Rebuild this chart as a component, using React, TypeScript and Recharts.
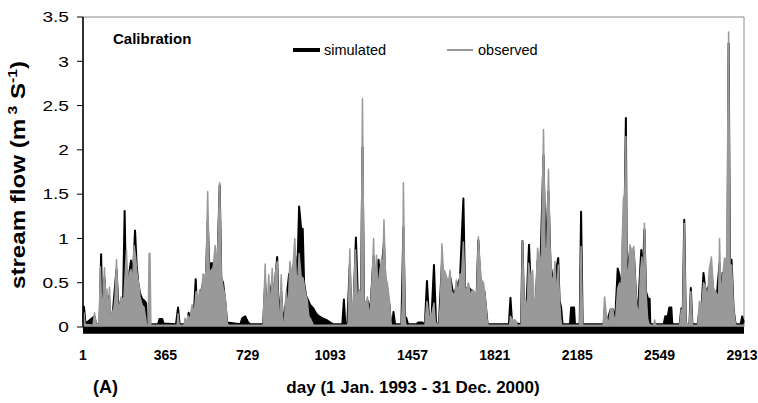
import React from "react";
import {
  ComposedChart,
  Area,
  XAxis,
  YAxis,
  ReferenceLine,
  ReferenceArea,
} from "recharts";

// day index (1 = 1 Jan 1993) and stream flow (m3/s)
const xTicks = [1, 365, 729, 1093, 1457, 1821, 2185, 2549, 2913];
const yTicks = [0, 0.5, 1, 1.5, 2, 2.5, 3, 3.5];

const observed1993_1994: [number, number][] = [
  [1, 0.05], [5, 0.16], [10, 0.03], [45, 0.02], [52, 0.16], [59, 0.03], [72, 0.03], [78, 0.68], [85, 0.1],
  [96, 0.67], [103, 0.15], [107, 0.43], [112, 0.1], [118, 0.45], [123, 0.05], [129, 0.15], [138, 0.22],
  [143, 0.35], [149, 0.76], [156, 0.25], [160, 0.2], [169, 0.34], [178, 0.3], [182, 0.34], [193, 0.87],
  [200, 0.4], [205, 0.6], [213, 0.65], [220, 0.5], [227, 0.92], [233, 0.8], [240, 0.6], [249, 0.45],
  [253, 0.34], [262, 0.25], [271, 0.22], [278, 0.1], [282, 0.02], [289, 0.02], [293, 0.83], [297, 0.83],
  [301, 0.02], [417, 0.02], [421, 0.15], [426, 0.02], [448, 0.02], [452, 0.1], [459, 0.02], [465, 0.13],
  [474, 0.08], [483, 0.25], [492, 0.15], [501, 0.4], [509, 0.25], [516, 0.42], [523, 0.35], [532, 0.6],
  [541, 0.55], [545, 0.65], [552, 1.53], [559, 0.6], [567, 0.64], [576, 0.67], [585, 0.92], [594, 0.67],
  [605, 1.63], [612, 0.6], [620, 0.45], [629, 0.35], [634, 0.2], [638, 0.05], [643, 0.02],
];

const observed1995_1996: [number, number][] = [
  [797, 0.02], [806, 0.71], [813, 0.1], [822, 0.59], [828, 0.15], [837, 0.66], [844, 0.3], [851, 0.6],
  [859, 0.74], [866, 0.1], [871, 0.1], [877, 0.59], [884, 0.03], [890, 0.03], [899, 0.4], [908, 0.2],
  [915, 0.74], [921, 0.6], [930, 0.72], [937, 1.0], [943, 0.6], [950, 0.5], [956, 0.83], [965, 0.57],
  [974, 0.55], [983, 0.4], [992, 0.3], [999, 0.12], [1005, 0.1], [1014, 0.05], [1019, 0.02], [1169, 0.02],
  [1173, 0.05], [1180, 0.88], [1187, 0.2], [1196, 0.25], [1205, 0.87], [1213, 0.3], [1222, 0.42],
  [1229, 0.2], [1236, 2.58], [1243, 0.3], [1249, 0.25], [1258, 0.34], [1265, 0.15], [1271, 0.2],
  [1280, 0.6], [1285, 1.0], [1291, 0.4], [1298, 0.81], [1304, 0.4], [1311, 0.6], [1320, 0.76], [1324, 0.5],
  [1331, 1.21], [1338, 0.55], [1346, 0.5], [1355, 0.3], [1360, 0.1], [1364, 0.02], [1408, 0.02],
  [1413, 0.3], [1417, 1.63], [1424, 0.1], [1428, 0.02],
];

const observed1997_1998: [number, number][] = [
  [1512, 0.02], [1521, 0.29], [1530, 0.12], [1539, 0.1], [1552, 0.27], [1558, 0.05], [1574, 0.02],
  [1581, 0.3], [1587, 0.94], [1594, 0.6], [1598, 0.64], [1607, 0.57], [1616, 0.5], [1623, 0.64],
  [1629, 0.4], [1636, 0.38], [1643, 0.35], [1651, 0.53], [1658, 0.35], [1667, 0.6], [1673, 0.55],
  [1682, 0.96], [1689, 0.45], [1696, 0.4], [1704, 0.5], [1713, 0.35], [1722, 0.42], [1731, 0.4],
  [1740, 0.3], [1748, 1.02], [1755, 0.7], [1762, 0.53], [1771, 0.5], [1780, 0.3], [1786, 0.1], [1791, 0.02],
  [1886, 0.02], [1890, 0.12], [1899, 0.08], [1912, 0.08], [1921, 0.02], [1937, 0.02], [1943, 0.97],
  [1950, 0.3], [1957, 0.3], [1963, 0.1], [1970, 0.72], [1979, 0.55], [1988, 0.64], [1994, 0.3],
  [2001, 0.3], [2010, 0.89], [2019, 0.7], [2027, 0.83], [2036, 2.23], [2043, 0.9], [2050, 0.8],
  [2058, 1.78], [2065, 0.9], [2072, 0.57], [2079, 0.5], [2087, 0.74], [2094, 0.3], [2101, 0.7],
  [2107, 0.3], [2112, 0.1], [2116, 0.02], [2196, 0.02], [2202, 0.91], [2209, 0.02],
];

const observed1999_2000: [number, number][] = [
  [2300, 0.02], [2306, 0.34], [2313, 0.15], [2320, 0.05], [2324, 0.05], [2333, 0.21], [2342, 0.2],
  [2348, 0.1], [2355, 0.1], [2364, 0.44], [2373, 0.5], [2380, 0.45], [2382, 0.8], [2389, 1.45],
  [2395, 1.5], [2400, 2.15], [2404, 0.66], [2411, 0.6], [2418, 0.93], [2426, 0.85], [2435, 0.91],
  [2442, 0.5], [2448, 0.25], [2457, 0.1], [2464, 0.6], [2471, 0.79], [2478, 0.4], [2482, 1.17],
  [2489, 0.4], [2496, 0.1], [2500, 0.05], [2507, 0.02], [2523, 0.02], [2527, 0.08], [2532, 0.02],
  [2638, 0.02], [2645, 0.2], [2651, 0.1], [2658, 1.17], [2665, 0.05], [2681, 0.02], [2687, 0.4],
  [2694, 0.02], [2718, 0.02], [2725, 0.29], [2734, 0.2], [2743, 0.5], [2752, 0.46], [2760, 0.3],
  [2769, 0.66], [2778, 0.79], [2787, 0.44], [2796, 0.4], [2805, 0.36], [2809, 0.2], [2814, 1.0],
  [2820, 0.3], [2827, 0.55], [2836, 0.78], [2845, 0.75], [2854, 3.33], [2860, 0.7], [2867, 0.7],
  [2876, 0.2], [2885, 0.02], [2922, 0.02],
];

const simulated1993_1994: [number, number][] = [
  [1, 0.05], [5, 0.23], [12, 0.04], [52, 0.12], [59, 0.03], [74, 0.03], [81, 0.82], [87, 0.05], [96, 0.55],
  [103, 0.1], [116, 0.35], [123, 0.04], [134, 0.2], [149, 0.65], [158, 0.2], [169, 0.3], [178, 0.3],
  [185, 1.31], [191, 0.4], [200, 0.5], [213, 0.75], [222, 0.6], [231, 1.09], [238, 0.7], [245, 0.5],
  [253, 0.38], [262, 0.32], [271, 0.3], [280, 0.27], [284, 0.03], [333, 0.03], [339, 0.09], [351, 0.09],
  [357, 0.04], [412, 0.03], [421, 0.22], [428, 0.03], [461, 0.03], [468, 0.16], [474, 0.05], [483, 0.2],
  [492, 0.2], [499, 0.54], [505, 0.2], [518, 0.35], [532, 0.5], [545, 0.6], [552, 1.2], [559, 0.7],
  [567, 0.72], [576, 0.72], [585, 0.72], [594, 0.6], [605, 1.6], [612, 0.55], [620, 0.5], [629, 0.3],
  [638, 0.05], [696, 0.03], [705, 0.1], [718, 0.12], [731, 0.05], [740, 0.03],
];

const simulated1995_1996: [number, number][] = [
  [797, 0.03], [806, 0.5], [815, 0.1], [828, 0.4], [837, 0.5], [846, 0.4], [859, 0.79], [866, 0.1],
  [877, 0.4], [886, 0.03], [899, 0.3], [912, 0.6], [925, 0.6], [939, 0.8], [947, 0.5], [956, 1.36],
  [965, 1.11], [972, 1.11], [978, 0.5], [987, 0.35], [996, 0.3], [1005, 0.25], [1019, 0.21], [1032, 0.15],
  [1045, 0.12], [1058, 0.1], [1076, 0.08], [1094, 0.05], [1107, 0.03], [1147, 0.03], [1154, 0.31],
  [1160, 0.03], [1169, 0.03], [1180, 0.7], [1187, 0.1], [1196, 0.2], [1207, 1.01], [1216, 0.3],
  [1222, 0.35], [1229, 0.2], [1236, 2.03], [1243, 0.25], [1258, 0.3], [1271, 0.2], [1285, 0.8],
  [1294, 0.5], [1307, 0.76], [1315, 0.5], [1322, 0.7], [1331, 0.95], [1338, 0.5], [1346, 0.4],
  [1355, 0.25], [1362, 0.03], [1368, 0.03], [1373, 0.17], [1380, 0.03], [1408, 0.03], [1417, 1.13],
  [1424, 0.12], [1430, 0.1], [1437, 0.03],
];

const simulated1997_1998: [number, number][] = [
  [1474, 0.03], [1483, 0.05], [1501, 0.05], [1512, 0.03], [1521, 0.52], [1530, 0.1], [1541, 0.1],
  [1552, 0.7], [1561, 0.05], [1574, 0.03], [1587, 0.72], [1598, 0.55], [1616, 0.45], [1625, 0.55],
  [1638, 0.35], [1651, 0.45], [1667, 0.55], [1682, 1.45], [1689, 0.42], [1704, 0.45], [1722, 0.4],
  [1740, 0.3], [1748, 0.98], [1757, 0.5], [1775, 0.4], [1789, 0.03], [1883, 0.03], [1890, 0.33],
  [1897, 0.05], [1937, 0.03], [1943, 0.97], [1950, 0.2], [1961, 0.25], [1972, 0.93], [1979, 0.5],
  [1992, 0.25], [2001, 0.25], [2010, 0.75], [2023, 0.75], [2036, 1.94], [2045, 0.8], [2058, 1.53],
  [2067, 0.7], [2081, 0.5], [2090, 0.6], [2101, 0.78], [2107, 0.3], [2114, 0.22], [2120, 0.03],
  [2153, 0.03], [2158, 0.22], [2171, 0.22], [2175, 0.03], [2196, 0.03], [2202, 1.3], [2209, 0.03],
];

const simulated1999_2000: [number, number][] = [
  [2302, 0.03], [2306, 0.2], [2315, 0.05], [2333, 0.2], [2342, 0.2], [2353, 0.1], [2364, 0.66],
  [2373, 0.57], [2382, 0.5], [2389, 1.2], [2395, 1.4], [2400, 2.36], [2404, 0.6], [2418, 0.85],
  [2435, 0.85], [2446, 0.3], [2452, 0.1], [2468, 0.87], [2474, 0.5], [2482, 1.1], [2489, 0.4],
  [2498, 0.32], [2505, 0.32], [2508, 0.03], [2567, 0.03], [2574, 0.12], [2585, 0.12], [2592, 0.22],
  [2601, 0.22], [2605, 0.03], [2638, 0.03], [2645, 0.21], [2651, 0.1], [2658, 1.21], [2665, 0.03],
  [2681, 0.03], [2687, 0.44], [2694, 0.03], [2718, 0.03], [2725, 0.2], [2734, 0.2], [2743, 0.61],
  [2752, 0.4], [2765, 0.45], [2778, 0.6], [2787, 0.4], [2800, 0.3], [2814, 0.72], [2820, 0.3],
  [2827, 0.61], [2836, 0.6], [2849, 0.6], [2854, 3.2], [2860, 0.7], [2867, 0.76], [2876, 0.2],
  [2885, 0.03], [2907, 0.03], [2914, 0.12], [2921, 0.05],
];

const observed = [...observed1993_1994, ...observed1995_1996, ...observed1997_1998, ...observed1999_2000];
const simulated = [...simulated1993_1994, ...simulated1995_1996, ...simulated1997_1998, ...simulated1999_2000];

type Row = { d: number; sim: number | null; obs: number | null };
const buildTable = (): Row[] => {
  const map = new Map<number, Row>();
  const get = (d: number) => {
    let r = map.get(d);
    if (!r) {
      r = { d, sim: null, obs: null };
      map.set(d, r);
    }
    return r;
  };
  simulated.forEach(([d, v]) => (get(d).sim = v));
  observed.forEach(([d, v]) => (get(d).obs = v));
  return Array.from(map.values()).sort((a, b) => a.d - b.d);
};
const table = buildTable();

const FONT = "'Liberation Sans', Arial, Helvetica, sans-serif";

const YTick = (props: any) => {
  const { x, y, payload } = props;
  return (
    <g transform={`translate(${x},${y})`}>
      <text
        x={0}
        y={0}
        dy="0.36em"
        textAnchor="end"
        fontFamily={FONT}
        fontSize={14.5}
        fill="#000"
        transform="scale(1.32,1)"
      >
        {String(payload.value)}
      </text>
    </g>
  );
};

export default function App() {
  return (
    <div style={{ position: "absolute", left: 0, top: 0, width: 758, height: 403, background: "#fff" }}>
      <ComposedChart
        width={758}
        height={403}
        data={table}
        margin={{ top: 17, right: 14, bottom: 0, left: 0 }}
      >
        <ReferenceArea
          x1={1}
          x2={2922}
          y1={0}
          y2={3.5}
          fill="none"
          fillOpacity={0}
          stroke="#8a8a8a"
          strokeWidth={1}
        />
        <XAxis
          dataKey="d"
          type="number"
          domain={[1, 2922]}
          ticks={xTicks}
          interval={0}
          height={76}
          axisLine={false}
          tickLine={false}
          tickSize={0}
          tickMargin={23}
          tick={{ fontFamily: FONT, fontSize: 14, fontWeight: 700, fill: "#000" }}
        />
        <YAxis
          type="number"
          domain={[0, 3.5]}
          ticks={yTicks}
          interval={0}
          width={83}
          axisLine={{ stroke: "#000", strokeWidth: 1.5 }}
          tickLine={{ stroke: "#000", strokeWidth: 1 }}
          tickSize={6}
          tickMargin={8}
          tick={<YTick />}
        />
        <Area
          dataKey="sim"
          type="linear"
          connectNulls
          stroke="#000"
          strokeWidth={2}
          strokeLinejoin="round"
          fill="#000"
          fillOpacity={1}
          dot={false}
          activeDot={false}
          isAnimationActive={false}
        />
        <Area
          dataKey="obs"
          type="linear"
          connectNulls
          stroke="#999999"
          strokeWidth={1.5}
          strokeLinejoin="round"
          fill="#999999"
          fillOpacity={1}
          dot={false}
          activeDot={false}
          isAnimationActive={false}
        />
        <ReferenceLine y={-0.038} ifOverflow="visible" stroke="#000" strokeWidth={7} />
      </ComposedChart>
      <svg
        width={758}
        height={403}
        style={{ position: "absolute", left: 0, top: 0, pointerEvents: "none" }}
      >
        <text x={113} y={44} fontFamily={FONT} fontSize={15} fontWeight={700} fill="#000">
          Calibration
        </text>
        <rect x={293} y={48} width={27} height={4} fill="#000" />
        <text x={324} y={55} fontFamily={FONT} fontSize={14.5} fill="#000">
          simulated
        </text>
        <rect x={447} y={49} width={26} height={2} fill="#999999" />
        <text x={478} y={55} fontFamily={FONT} fontSize={14.5} fill="#000">
          observed
        </text>
        <text x={413} y={393} textAnchor="middle" fontFamily={FONT} fontSize={17} fontWeight={700} fill="#000">
          day (1 Jan. 1993 - 31 Dec. 2000)
        </text>
        <text x={93} y={393} fontFamily={FONT} fontSize={18} fontWeight={700} fill="#000">
          (A)
        </text>
        <g transform="translate(25,175) rotate(-90)">
          <text
            x={0}
            y={0}
            textAnchor="middle"
            fontFamily={FONT}
            fontSize={20}
            fontWeight={700}
            fill="#000"
            textLength={228}
            lengthAdjust="spacingAndGlyphs"
          >
            stream flow (m
            <tspan fontSize={13} dy={-8}> 3</tspan>
            <tspan fontSize={20} dy={8}> S</tspan>
            <tspan fontSize={13} dy={-8}>-1</tspan>
            <tspan fontSize={20} dy={8}>)</tspan>
          </text>
        </g>
      </svg>
    </div>
  );
}
